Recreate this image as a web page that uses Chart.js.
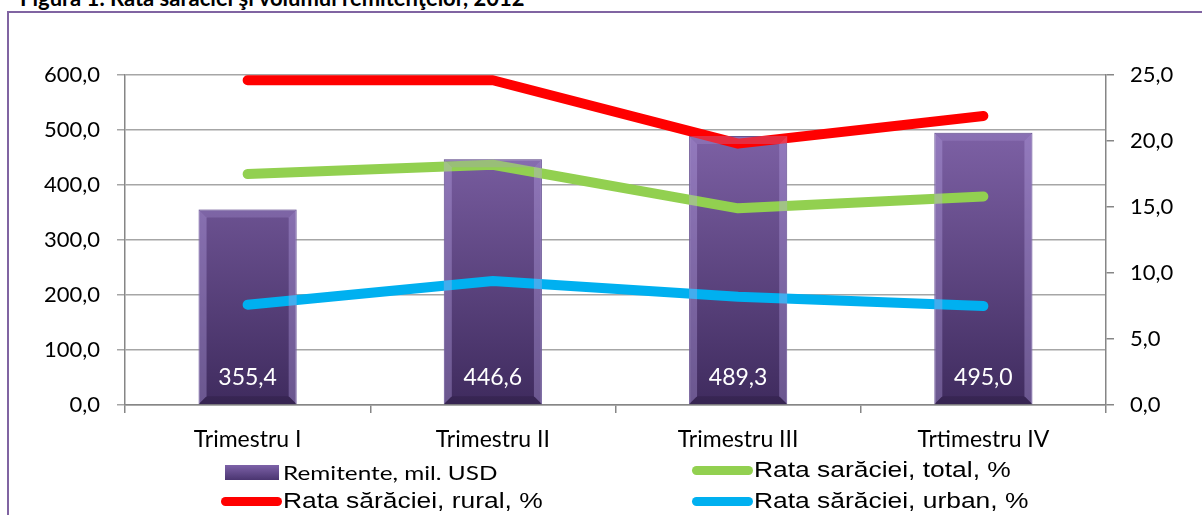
<!DOCTYPE html>
<html>
<head>
<meta charset="utf-8">
<script src="https://cdn.jsdelivr.net/npm/chart.js@4"></script>
<style>
  html, body { margin: 0; padding: 0; background: #fff; overflow: hidden; }
  #wrap { position: relative; width: 1202px; height: 515px; }
  #frame { position: absolute; left: 7px; top: 11px; width: 1300px; height: 600px;
           border-top: 2px solid #8064A2; border-left: 2px solid #8064A2; }
  #title { position: absolute; left: 20px; top: -16px; font: bold 22px Lato, sans-serif;
           color: #000; white-space: nowrap; }
  canvas { position: absolute; left: 0; top: 0; }
  .lg { position: absolute; white-space: nowrap; color: #000; }
  .lg .sw { position: absolute; }
  .lg .tx { display: inline-block; transform-origin: 0 50%; }
  .calib { font: 19px Lato, sans-serif; }
  .calib .tx { transform: scaleX(1.28); }
  .arial { font: 22px "Liberation Sans", Arial, sans-serif; }
  .arial .tx { transform: scaleX(1.2); }
</style>
</head>
<body>
<div id="wrap">
  <div id="title">Figura 1. Rata sărăciei şi volumul remitenţelor, 2012</div>
  <div id="frame"></div>
  <canvas id="chart" width="1202" height="515"></canvas>
  <div id="legend"></div>
</div>
<script>
const categories = ["Trimestru I", "Trimestru II", "Trimestru III", "Trtimestru IV"];
const remitente = [355.4, 446.6, 489.3, 495.0];
const rataRural = [24.6, 24.6, 19.8, 21.9];
const rataTotal = [17.5, 18.2, 14.9, 15.8];
const rataUrban = [7.6, 9.4, 8.2, 7.5];
const leftTicks = [0, 100, 200, 300, 400, 500, 600];
const rightTicks = [0, 5, 10, 15, 20, 25];

const fmt = v => v.toFixed(1).replace(".", ",");

// purple bars with a vertical gradient
function barFill(context) {
  const area = context.chart.chartArea;
  if (!area) return "#604a8a";
  const g = context.chart.ctx.createLinearGradient(0, area.top, 0, area.bottom);
  g.addColorStop(0, "#8a6cb4");
  g.addColorStop(1, "#3f2b5e");
  return g;
}

// light side edges + value labels inside the bars
const barDeco = {
  id: "barDeco",
  afterDatasetsDraw(chart) {
    const ctx = chart.ctx;
    const meta = chart.getDatasetMeta(0);
    ctx.save();
    meta.data.forEach((bar, i) => {
      const left = bar.x - bar.width / 2, right = bar.x + bar.width / 2;
      const top = bar.y, bottom = bar.base;
      ctx.fillStyle = "rgba(190,170,235,0.35)";
      ctx.beginPath();
      ctx.moveTo(left, top); ctx.lineTo(left + 8, top + 8);
      ctx.lineTo(left + 8, bottom - 8); ctx.lineTo(left, bottom); ctx.closePath(); ctx.fill();
      ctx.beginPath();
      ctx.moveTo(right, top); ctx.lineTo(right - 8, top + 8);
      ctx.lineTo(right - 8, bottom - 8); ctx.lineTo(right, bottom); ctx.closePath(); ctx.fill();
      ctx.fillStyle = "rgba(40,25,60,0.35)";
      ctx.beginPath();
      ctx.moveTo(left, bottom); ctx.lineTo(left + 8, bottom - 8);
      ctx.lineTo(right - 8, bottom - 8); ctx.lineTo(right, bottom); ctx.closePath(); ctx.fill();
      ctx.fillStyle = "rgba(170,150,215,0.3)";
      ctx.beginPath();
      ctx.moveTo(left, top); ctx.lineTo(left + 8, top + 8);
      ctx.lineTo(right - 8, top + 8); ctx.lineTo(right, top); ctx.closePath(); ctx.fill();
      ctx.fillStyle = "#fff";
      ctx.font = "23px Lato, sans-serif";
      ctx.textAlign = "center";
      ctx.textBaseline = "middle";
      ctx.fillText(fmt(remitente[i]), bar.x, bottom - 27);
    });
    ctx.restore();
  }
};

const lineDs = (label, data, color) => ({
  type: "line", label, data, yAxisID: "y1", order: 0,
  borderColor: color, backgroundColor: color, borderWidth: 10,
  borderCapStyle: "round", borderJoinStyle: "round",
  pointRadius: 0, tension: 0, fill: false, clip: false
});

new Chart(document.getElementById("chart"), {
  data: {
    labels: categories,
    datasets: [
      { type: "bar", label: "Remitente, mil. USD", data: remitente, yAxisID: "y", order: 1,
        backgroundColor: barFill, borderColor: "#4b3870", borderWidth: 1,
        barPercentage: 0.4, categoryPercentage: 1 },
      lineDs("Rata sărăciei, rural, %", rataRural, "#ff0000"),
      lineDs("Rata sarăciei, total, %", rataTotal, "#92d050"),
      lineDs("Rata sărăciei, urban, %", rataUrban, "#00b0f0")
    ]
  },
  options: {
    responsive: false,
    animation: false,
    layout: { padding: { top: 75, left: 0, right: 0, bottom: 0 } },
    plugins: { legend: { display: false }, tooltip: { enabled: false } },
    scales: {
      x: {
        offset: true,
        grid: { offset: true, drawOnChartArea: false, color: "#868686", lineWidth: 1.5, tickLength: 8 },
        border: { color: "#868686", width: 1.5 },
        ticks: { color: "#000", font: { family: "Lato", size: 23 }, padding: 13, maxRotation: 0 },
        afterFit(s) { s.height = 110; }
      },
      y: {
        position: "left", min: 0, max: 600,
        afterBuildTicks(s) { s.ticks = leftTicks.map(v => ({ value: v })); },
        grid: { color: "#a6a6a6", lineWidth: 1.5, tickLength: 8 },
        border: { color: "#868686", width: 1.5 },
        ticks: { color: "#000", font: { family: "Lato", size: 22 }, padding: 17, callback: v => fmt(v) },
        afterFit(s) { s.width = 125; }
      },
      y1: {
        position: "right", min: 0, max: 25,
        afterBuildTicks(s) { s.ticks = rightTicks.map(v => ({ value: v })); },
        grid: { drawOnChartArea: false, color: "#868686", lineWidth: 1.5, tickLength: 8 },
        border: { color: "#868686", width: 1.5 },
        ticks: { color: "#000", font: { family: "Lato", size: 22 }, padding: 16, callback: v => fmt(v) },
        afterFit(s) { s.width = 96; }
      }
    }
  },
  plugins: [barDeco]
});

// legend in two columns, as in the source figure
const legendItems = [
  { text: "Remitente, mil. USD", kind: "bar", cls: "calib", x: 225, y: 473 },
  { text: "Rata sarăciei, total, %", color: "#92d050", cls: "arial", x: 692, y: 470 },
  { text: "Rata sărăciei, rural, %", color: "#ff0000", cls: "arial", x: 221, y: 501 },
  { text: "Rata sărăciei, urban, %", color: "#00b0f0", cls: "arial", x: 692, y: 501 }
];
const legend = document.getElementById("legend");
legendItems.forEach(it => {
  const d = document.createElement("div");
  d.className = "lg " + it.cls;
  d.style.left = it.x + "px";
  d.style.top = (it.y - 14) + "px";
  d.style.lineHeight = "28px";
  const sw = document.createElement("span");
  sw.className = "sw";
  if (it.kind === "bar") {
    sw.style.cssText = "left:0;top:6px;width:54px;height:15px;background:linear-gradient(#7d62a8,#4a3570);";
  } else {
    sw.style.cssText = "left:0;top:10px;width:61px;height:9px;border-radius:5px;background:" + it.color + ";";
  }
  d.appendChild(sw);
  const t = document.createElement("span");
  t.className = "tx";
  t.textContent = it.text;
  t.style.marginLeft = (it.kind === "bar" ? 58 : 62) + "px";
  d.appendChild(t);
  legend.appendChild(d);
});
</script>
</body>
</html>
